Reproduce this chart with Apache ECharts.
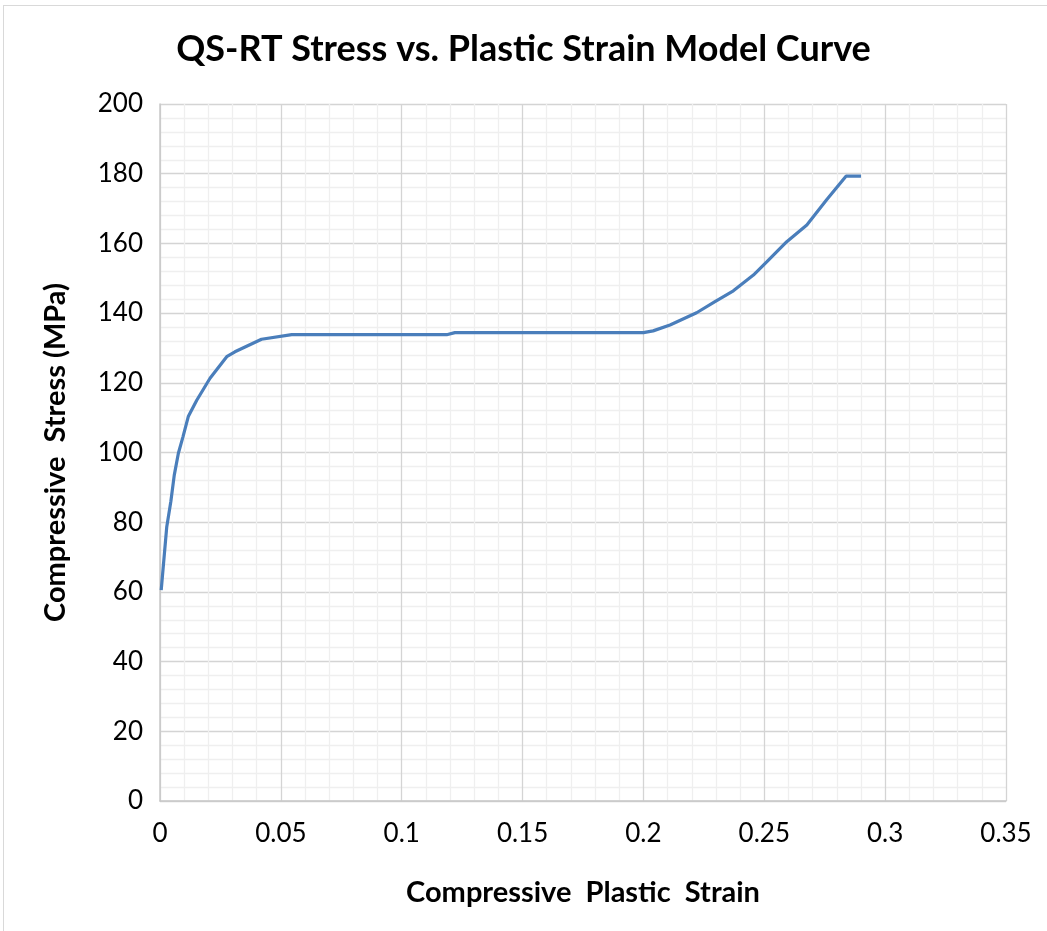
<!DOCTYPE html>
<html>
<head>
<meta charset="utf-8">
<script src="https://cdn.jsdelivr.net/npm/echarts@6/dist/echarts.min.js"></script>
<style>
  html, body { margin: 0; padding: 0; background: #fff; }
  #frame { position: absolute; left: 3px; top: 5px; width: 1050px; height: 940px; border: 1px solid #d9d9d9; box-sizing: border-box; }
  #chart { width: 1047px; height: 931px; }
</style>
</head>
<body>
<div id="frame"></div>
<div id="chart"></div>
<script>
  // strain / stress pairs
  var strain = [0.0005, 0.0028, 0.0045, 0.0059, 0.0076, 0.0095, 0.0117, 0.0152, 0.0207, 0.0276, 0.031, 0.042, 0.0545,
    0.1186, 0.122, 0.2, 0.204, 0.211, 0.222, 0.2296, 0.2372, 0.2455, 0.251, 0.2593, 0.2676, 0.2758, 0.2838, 0.29];
  var stress = [60.5, 78.7, 86, 93.5, 99.8, 104.5, 110.3, 115, 121.3, 127.5, 128.9, 132.5, 133.8,
    133.8, 134.4, 134.4, 134.9, 136.6, 140.1, 143.3, 146.4, 150.9, 154.7, 160.5, 165.3, 172.5, 179.3, 179.3];

  var xTicks = { min: 0, max: 0.35, step: 0.05 };
  var yTicks = { min: 0, max: 200, step: 20 };

  var points = [];
  for (var i = 0; i < strain.length; i++) points.push([strain[i], stress[i]]);

  var font = 'Lato, "Open Sans", sans-serif';
  var chart = echarts.init(document.getElementById('chart'));
  chart.setOption({
    animation: false,
    title: {
      text: 'QS-RT Stress vs. Plastic Strain Model Curve',
      left: 'center',
      top: 26,
      textStyle: { fontFamily: font, fontSize: 36, fontWeight: 'bold', color: '#000' }
    },
    grid: { left: 160, right: 41, top: 104, bottom: 130 },
    xAxis: {
      type: 'value',
      min: xTicks.min, max: xTicks.max, interval: xTicks.step,
      name: 'Compressive  Plastic  Strain',
      nameLocation: 'middle',
      nameGap: 77,
      nameTextStyle: { fontFamily: font, fontSize: 29, fontWeight: 'bold', color: '#000' },
      axisLine: { show: true, lineStyle: { color: '#c8c8c8', width: 1.5 } },
      axisTick: { show: false },
      axisLabel: { fontFamily: font, fontSize: 26, color: '#000', margin: 20 },
      splitLine: { show: true, lineStyle: { color: '#d4d4d4', width: 1.3 } },
      minorTick: { show: false, splitNumber: 5 },
      minorSplitLine: { show: true, lineStyle: { color: '#efefef', width: 1.3 } }
    },
    yAxis: {
      type: 'value',
      min: yTicks.min, max: yTicks.max, interval: yTicks.step,
      name: 'Compressive  Stress (MPa)',
      nameLocation: 'middle',
      nameGap: 90,
      nameTextStyle: { fontFamily: font, fontSize: 29, fontWeight: 'bold', color: '#000' },
      axisLine: { show: true, lineStyle: { color: '#c8c8c8', width: 1.5 } },
      axisTick: { show: false },
      axisLabel: { fontFamily: font, fontSize: 26, color: '#000', margin: 17 },
      splitLine: { show: true, lineStyle: { color: '#d4d4d4', width: 1.3 } },
      minorTick: { show: false, splitNumber: 5 },
      minorSplitLine: { show: true, lineStyle: { color: '#efefef', width: 1.3 } }
    },
    series: [{
      type: 'line',
      data: points,
      showSymbol: false,
      smooth: false,
      lineStyle: { color: '#4a7ebb', width: 3.2 }
    }]
  });
</script>
</body>
</html>
